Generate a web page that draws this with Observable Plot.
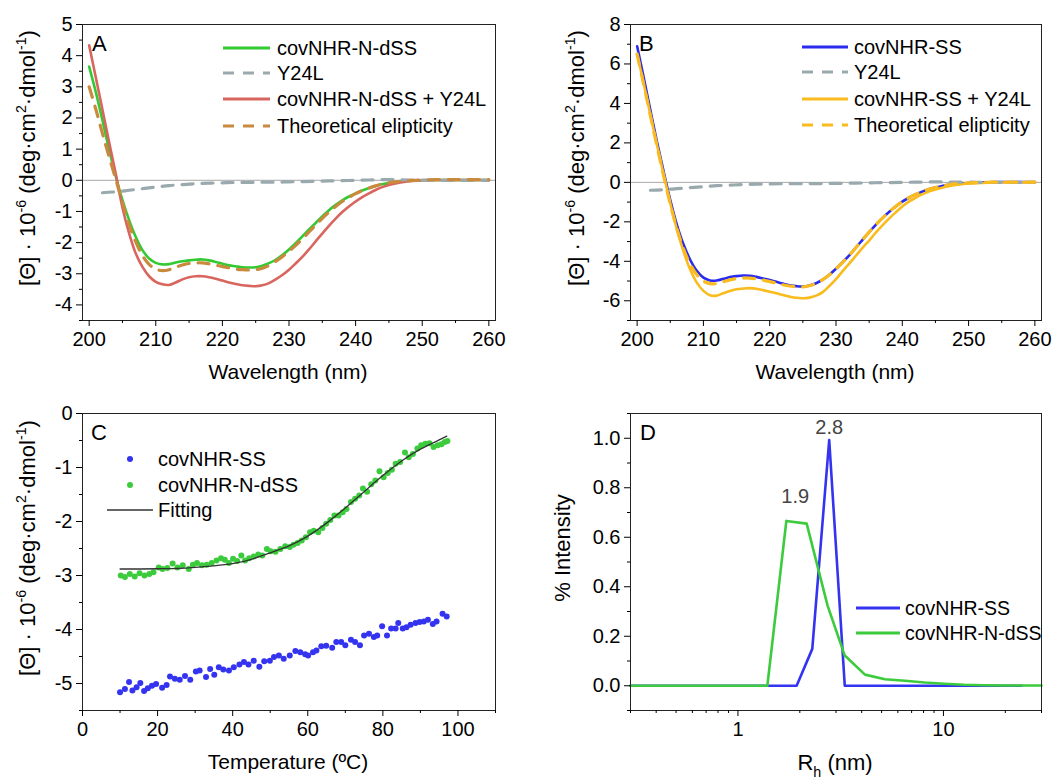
<!DOCTYPE html>
<html><head><meta charset="utf-8">
<script src="https://cdn.jsdelivr.net/npm/d3@7"></script>
<script src="https://cdn.jsdelivr.net/npm/@observablehq/plot@0.6"></script>
<style>
body{margin:0;background:#fff;}
#fig{position:relative;width:1063px;height:780px;font-family:"Liberation Sans",Arial,sans-serif;}
.panel{position:absolute;}
.panel svg text{font-family:"Liberation Sans",Arial,sans-serif;}
.panel svg g[aria-label*="tick label"] text{font-size:20px !important;}
</style></head><body><div id="fig"></div>
<script>
// ---------- DATA ----------
// Panels A/B: wavelengths (nm)
const wavelengths = [200,201,202,203,204,205,206,207,208,209,210,211,212,213,214,215,216,217,218,219,220,221,222,223,224,225,226,227,228,229,230,231,232,233,234,235,236,237,238,239,240,241,242,243,244,245,246,247,248,249,250,252,254,256,258,260];
// Panel A
const covNHR_N_dSS = [3.65,2.83,1.92,0.98,0.12,-0.64,-1.28,-1.82,-2.24,-2.51,-2.65,-2.70,-2.69,-2.64,-2.60,-2.57,-2.55,-2.54,-2.57,-2.62,-2.68,-2.73,-2.76,-2.79,-2.80,-2.79,-2.74,-2.66,-2.55,-2.40,-2.22,-2.02,-1.80,-1.58,-1.37,-1.16,-0.96,-0.79,-0.64,-0.52,-0.42,-0.33,-0.25,-0.18,-0.13,-0.09,-0.06,-0.03,-0.02,-0.01,0.00,0.01,0.01,0.01,0.01,0.01];
const covNHR_N_dSS_Y24L = [4.33,3.30,2.26,1.22,0.20,-0.88,-1.70,-2.35,-2.78,-3.08,-3.26,-3.34,-3.36,-3.28,-3.18,-3.11,-3.08,-3.08,-3.11,-3.16,-3.22,-3.28,-3.33,-3.37,-3.39,-3.40,-3.37,-3.30,-3.18,-3.04,-2.87,-2.67,-2.46,-2.22,-1.96,-1.71,-1.46,-1.23,-1.02,-0.84,-0.68,-0.54,-0.42,-0.31,-0.22,-0.15,-0.10,-0.06,-0.03,-0.01,0.00,0.01,0.01,0.01,0.01,0.01];
const theoreticalA = [3.00,2.28,1.50,0.75,0.03,-0.72,-1.42,-1.98,-2.42,-2.70,-2.85,-2.90,-2.87,-2.79,-2.72,-2.67,-2.65,-2.65,-2.68,-2.72,-2.77,-2.81,-2.85,-2.87,-2.88,-2.87,-2.82,-2.73,-2.60,-2.45,-2.28,-2.09,-1.88,-1.66,-1.44,-1.22,-1.02,-0.84,-0.68,-0.55,-0.43,-0.33,-0.25,-0.18,-0.12,-0.08,-0.05,-0.03,-0.01,0.00,0.01,0.02,0.02,0.02,0.02,0.02];
// Y24L (both panels)
const y24lWavelengths = [202,204,206,208,210,212,214,216,218,220,222,224,226,228,230,232,234,236,238,240,242,244,246,248,250,252,254,256,258,260];
const y24l = [-0.40,-0.37,-0.32,-0.27,-0.22,-0.17,-0.14,-0.11,-0.09,-0.08,-0.07,-0.07,-0.06,-0.06,-0.05,-0.04,-0.03,-0.02,-0.01,0.00,0.01,0.02,0.02,0.01,0.01,0.00,0.00,0.00,0.00,0.00];
// Panel B
const covNHR_SS = [6.90,5.30,3.65,2.05,0.55,-0.90,-2.15,-3.15,-3.92,-4.48,-4.83,-4.97,-4.97,-4.89,-4.80,-4.75,-4.72,-4.73,-4.79,-4.87,-4.95,-5.04,-5.13,-5.21,-5.26,-5.28,-5.23,-5.11,-4.93,-4.68,-4.38,-4.05,-3.70,-3.31,-2.91,-2.52,-2.15,-1.81,-1.50,-1.22,-0.98,-0.78,-0.61,-0.47,-0.35,-0.26,-0.18,-0.12,-0.08,-0.05,-0.03,0.00,0.02,0.02,0.02,0.02];
const covNHR_SS_Y24L = [6.50,5.00,3.42,1.88,0.40,-1.05,-2.38,-3.50,-4.42,-5.08,-5.50,-5.72,-5.74,-5.62,-5.50,-5.42,-5.38,-5.36,-5.39,-5.46,-5.54,-5.62,-5.71,-5.79,-5.85,-5.87,-5.84,-5.74,-5.56,-5.25,-4.90,-4.50,-4.12,-3.72,-3.32,-2.95,-2.55,-2.18,-1.84,-1.52,-1.22,-0.98,-0.78,-0.61,-0.47,-0.36,-0.27,-0.19,-0.13,-0.09,-0.06,-0.03,-0.01,0.00,0.00,0.00];
const theoreticalB = [6.50,4.95,3.38,1.83,0.33,-1.10,-2.35,-3.38,-4.15,-4.68,-5.00,-5.13,-5.13,-5.04,-4.94,-4.88,-4.85,-4.85,-4.89,-4.95,-5.03,-5.11,-5.19,-5.25,-5.29,-5.30,-5.24,-5.12,-4.93,-4.68,-4.38,-4.05,-3.70,-3.31,-2.91,-2.52,-2.15,-1.81,-1.50,-1.22,-0.98,-0.78,-0.61,-0.47,-0.35,-0.26,-0.18,-0.12,-0.08,-0.05,-0.03,0.00,0.01,0.01,0.01,0.01];
// Panel C: thermal denaturation
const tempSS = [10.0,11.3,12.4,13.3,14.4,15.4,16.4,17.4,18.5,19.6,21.2,22.4,23.3,24.6,25.9,27.3,28.7,30.2,31.2,32.9,34.0,35.1,36.3,37.5,39.0,40.3,41.8,43.0,44.2,45.6,47.1,48.4,49.9,51.0,52.3,53.6,55.2,56.7,58.0,59.3,60.1,61.4,62.3,63.6,64.9,66.5,67.6,68.9,70.0,71.5,72.6,73.9,75.0,76.3,77.6,78.5,79.8,81.1,82.2,83.4,84.1,85.3,86.3,87.4,88.7,89.8,90.9,92.0,93.3,94.3,95.9,97.0];
const thetaSS = [-5.16,-5.10,-4.97,-5.13,-5.07,-4.99,-5.14,-5.09,-5.04,-5.01,-5.08,-5.03,-4.87,-4.91,-4.93,-4.86,-4.93,-4.78,-4.76,-4.88,-4.73,-4.84,-4.70,-4.74,-4.76,-4.70,-4.65,-4.60,-4.65,-4.58,-4.69,-4.59,-4.58,-4.51,-4.48,-4.54,-4.48,-4.40,-4.42,-4.46,-4.48,-4.42,-4.39,-4.31,-4.30,-4.34,-4.23,-4.23,-4.29,-4.19,-4.23,-4.29,-4.11,-4.08,-4.14,-4.11,-3.94,-4.11,-3.98,-3.98,-3.88,-3.98,-3.96,-3.91,-3.88,-3.86,-3.85,-3.82,-3.90,-3.85,-3.71,-3.76];
const tempNdSS = [10.2,11.3,12.6,13.9,15.2,16.5,17.8,18.9,20.3,21.3,22.6,24.0,25.3,26.7,28.3,29.4,30.5,31.8,33.1,34.4,35.7,36.9,37.9,39.0,40.1,41.2,42.3,43.3,44.4,45.6,46.8,47.9,49.1,50.1,51.4,52.7,54.0,55.2,56.2,57.3,58.4,59.5,60.6,61.6,62.8,63.9,64.9,66.0,67.1,68.2,69.3,70.3,71.5,72.6,73.7,74.7,75.8,76.9,78.0,79.1,80.2,81.3,82.4,83.4,84.6,85.9,86.9,88.0,89.2,90.2,91.3,92.4,93.5,94.6,95.6,96.5,97.2];
const thetaNdSS = [-3.00,-3.03,-2.97,-3.02,-2.96,-3.00,-2.97,-2.94,-2.85,-2.88,-2.86,-2.78,-2.85,-2.81,-2.88,-2.80,-2.77,-2.81,-2.80,-2.77,-2.72,-2.68,-2.71,-2.77,-2.69,-2.73,-2.63,-2.72,-2.68,-2.65,-2.61,-2.63,-2.51,-2.55,-2.56,-2.51,-2.46,-2.47,-2.43,-2.40,-2.35,-2.29,-2.20,-2.17,-2.20,-2.12,-2.04,-1.97,-1.89,-1.89,-1.83,-1.77,-1.64,-1.58,-1.52,-1.39,-1.45,-1.31,-1.24,-1.07,-1.18,-1.10,-1.04,-0.93,-0.90,-0.72,-0.81,-0.75,-0.65,-0.59,-0.56,-0.55,-0.62,-0.59,-0.57,-0.53,-0.51];
const fitTemp = [10,15,20,25,30,35,40,45,50,55,60,65,70,75,80,85,90,95,97];
const fitTheta = [-2.88,-2.88,-2.875,-2.87,-2.85,-2.82,-2.78,-2.70,-2.58,-2.45,-2.27,-2.03,-1.75,-1.45,-1.15,-0.88,-0.66,-0.49,-0.42];
// Panel D: DLS
const rhSS = [0.3,1.93,2.30,2.78,3.31,24];
const intSS = [0,0,0.149,0.993,0,0];
const rhNdSS = [0.3,1.39,1.72,2.16,2.73,3.31,4.15,5.19,6.5,8.1,10.1,12.6,15.8,19.7,24.6,30];
const intNdSS = [0,0,0.666,0.655,0.324,0.122,0.045,0.026,0.020,0.013,0.008,0.004,0.002,0.001,0.001,0.001];
const peakLabels = ["2.8","1.9"];
const peakX = [2.78,1.90];
const peakY = [0.993,0.666];

// ---------- STYLE ----------
const FONT = '"Liberation Sans", Arial, sans-serif';
const C = {green:"#33c933", red:"#d9665e", orange:"#c98a3e", gray:"#9aa9ae", blue:"#2b2bf0", yellow:"#f9bb1e", fit:"#333", dGreen:"#3ccb3c", dBlue:"#3434f0"};
const DASH = "11,9";
const rows = (xs, ys) => xs.map((x,i)=>({x, y: ys[i]}));

function richText(sel, {x, y, rotate=0, anchor="middle", size=21, parts, fill="#000"}) {
  const g = sel.append("g").attr("transform", `translate(${x},${y}) rotate(${rotate})`);
  const t = g.append("text").attr("text-anchor", anchor).style("font-size", size + "px")
    .attr("fill", fill);
  let shift = 0;
  for (const p of parts) {
    const s = t.append("tspan").text(p.t);
    let target = 0;
    if (p.sup) { target = -0.42*size; s.style("font-size", (size*0.65) + "px"); }
    if (p.sub) { target = 0.3*size; s.style("font-size", (size*0.65) + "px"); }
    s.attr("dy", target - shift); shift = target;
  }
  return t;
}

function makePanel({left, top, width, height, m, xOpt, yOpt, marks, xT, xM, yT, yM, xF, yF}) {
  const fmtX = xF || (d => String(d));
  const fmtY = yF || (d => String(d));
  const plot = Plot.plot({
    width, height, marginLeft: m[0], marginRight: m[1], marginTop: m[2], marginBottom: m[3],
    x: xOpt, y: yOpt,
    style: {fontFamily: FONT, fontSize: "20px", color: "#000", background: "transparent", overflow: "visible"},
    marks: [
      ...marks,
      Plot.frame({stroke: "#222", strokeWidth: 1}),
      Plot.axisY(yT, {tickSize: 6, tickPadding: 4, tickFormat: fmtY, label: null, fontSize: 20}),
      Plot.axisY(yM, {tickSize: 3, tickFormat: () => "", label: null}),
      Plot.axisX(xT, {tickSize: 6, tickPadding: 5, tickFormat: fmtX, label: null, fontSize: 20}),
      Plot.axisX(xM, {tickSize: 3, tickFormat: () => "", label: null})
    ]
  });
  const div = document.createElement("div");
  div.className = "panel";
  div.style.left = left + "px"; div.style.top = top + "px";
  div.appendChild(plot);
  document.getElementById("fig").appendChild(div);
  return d3.select(plot);
}

function legendLine(svg, x1, x2, y, color, dash, w) {
  const l = svg.append("line").attr("x1", x1).attr("x2", x2).attr("y1", y).attr("y2", y)
    .attr("stroke", color).attr("stroke-width", w || 3);
  if (dash) l.attr("stroke-dasharray", dash);
}
function legendText(svg, x, y, txt, size) {
  svg.append("text").attr("x", x).attr("y", y).attr("dy", "0.35em").style("font-size", (size || 20) + "px")
    .attr("text-anchor", "start").attr("fill", "#000").text(txt);
}
function panelLetter(svg, x, y, txt) {
  svg.append("text").attr("x", x).attr("y", y).style("font-size", "22px").attr("text-anchor", "start")
    .attr("fill", "#000").text(txt);
}
const yTitleParts = [{t:"[Θ] · 10"},{t:"-6",sup:true},{t:" (deg·cm"},{t:"2",sup:true},{t:"·dmol"},{t:"-1",sup:true},{t:")"}];

// ---------- PANEL A ----------
{
  const svg = makePanel({
    left: 0, top: 0, width: 530, height: 390, m: [82, 35, 24, 70],
    xOpt: {domain: [199, 261]}, yOpt: {domain: [-4.5, 5]},
    xT: [200,210,220,230,240,250,260], xM: [205,215,225,235,245,255],
    yT: [-4,-3,-2,-1,0,1,2,3,4,5], yM: [-4.5,-3.5,-2.5,-1.5,-0.5,0.5,1.5,2.5,3.5,4.5],
    marks: [
      Plot.ruleY([0], {stroke: "#a8a8a8", strokeWidth: 1}),
      Plot.line(rows(wavelengths, covNHR_N_dSS), {x: "x", y: "y", stroke: C.green, strokeWidth: 2.6, curve: "catmull-rom"}),
      Plot.line(rows(wavelengths, covNHR_N_dSS_Y24L), {x: "x", y: "y", stroke: C.red, strokeWidth: 2.6, curve: "catmull-rom"}),
      Plot.line(rows(y24lWavelengths, y24l), {x: "x", y: "y", stroke: C.gray, strokeWidth: 3.2, strokeDasharray: DASH, curve: "catmull-rom"}),
      Plot.line(rows(wavelengths, theoreticalA), {x: "x", y: "y", stroke: C.orange, strokeWidth: 3.2, strokeDasharray: DASH, curve: "catmull-rom"})
    ]
  });
  panelLetter(svg, 92, 51, "A");
  legendLine(svg, 223, 270, 48, C.green);
  legendLine(svg, 223, 270, 73, C.gray, DASH);
  legendLine(svg, 223, 270, 99, C.red);
  legendLine(svg, 223, 270, 126, C.orange, DASH);
  legendText(svg, 277, 48, "covNHR-N-dSS");
  legendText(svg, 277, 73, "Y24L");
  legendText(svg, 277, 99, "covNHR-N-dSS + Y24L");
  legendText(svg, 277, 126, "Theoretical elipticity");
  richText(svg, {x: 35, y: 158, rotate: -90, size: 22, parts: yTitleParts});
  richText(svg, {x: 288, y: 379, parts: [{t: "Wavelength (nm)"}]});
}

// ---------- PANEL B ----------
{
  const svg = makePanel({
    left: 530, top: 0, width: 533, height: 390, m: [100, 22, 24, 70],
    xOpt: {domain: [199, 261]}, yOpt: {domain: [-7, 8]},
    xT: [200,210,220,230,240,250,260], xM: [205,215,225,235,245,255],
    yT: [-6,-4,-2,0,2,4,6,8], yM: [-7,-5,-3,-1,1,3,5,7],
    marks: [
      Plot.ruleY([0], {stroke: "#a8a8a8", strokeWidth: 1}),
      Plot.line(rows(wavelengths, covNHR_SS), {x: "x", y: "y", stroke: C.blue, strokeWidth: 2.6, curve: "catmull-rom"}),
      Plot.line(rows(wavelengths, covNHR_SS_Y24L), {x: "x", y: "y", stroke: C.yellow, strokeWidth: 2.6, curve: "catmull-rom"}),
      Plot.line(rows(y24lWavelengths, y24l), {x: "x", y: "y", stroke: C.gray, strokeWidth: 3.2, strokeDasharray: DASH, curve: "catmull-rom"}),
      Plot.line(rows(wavelengths, theoreticalB), {x: "x", y: "y", stroke: C.yellow, strokeWidth: 3.2, strokeDasharray: DASH, curve: "catmull-rom"})
    ]
  });
  panelLetter(svg, 109, 51, "B");
  legendLine(svg, 272, 318, 47, C.blue);
  legendLine(svg, 272, 318, 72, C.gray, DASH);
  legendLine(svg, 272, 318, 99, C.yellow);
  legendLine(svg, 272, 318, 125, C.yellow, DASH);
  legendText(svg, 324, 47, "covNHR-SS");
  legendText(svg, 324, 72, "Y24L");
  legendText(svg, 324, 99, "covNHR-SS + Y24L");
  legendText(svg, 324, 125, "Theoretical elipticity");
  richText(svg, {x: 54, y: 158, rotate: -90, size: 22, parts: yTitleParts});
  richText(svg, {x: 305, y: 379, parts: [{t: "Wavelength (nm)"}]});
}

// ---------- PANEL C ----------
{
  const svg = makePanel({
    left: 0, top: 390, width: 530, height: 390, m: [82, 35, 23, 70],
    xOpt: {domain: [0, 110]}, yOpt: {domain: [-5.5, 0]},
    xT: [0,20,40,60,80,100], xM: [10,30,50,70,90,110],
    yT: [0,-1,-2,-3,-4,-5], yM: [-0.5,-1.5,-2.5,-3.5,-4.5,-5.5],
    marks: [
      Plot.dot(rows(tempSS, thetaSS), {x: "x", y: "y", r: 3, fill: C.dBlue}),
      Plot.dot(rows(tempNdSS, thetaNdSS), {x: "x", y: "y", r: 3, fill: C.dGreen}),
      Plot.line(rows(fitTemp, fitTheta), {x: "x", y: "y", stroke: C.fit, strokeWidth: 1.3, curve: "natural"})
    ]
  });
  panelLetter(svg, 91, 50, "C");
  svg.append("circle").attr("cx", 130).attr("cy", 69).attr("r", 3).attr("fill", C.dBlue);
  svg.append("circle").attr("cx", 130).attr("cy", 95).attr("r", 3).attr("fill", C.dGreen);
  legendLine(svg, 107, 153, 120, C.fit, null, 1.3);
  legendText(svg, 158, 69, "covNHR-SS");
  legendText(svg, 158, 95, "covNHR-N-dSS");
  legendText(svg, 158, 120, "Fitting");
  richText(svg, {x: 35, y: 158, rotate: -90, size: 22, parts: yTitleParts});
  richText(svg, {x: 288, y: 379, parts: [{t: "Temperature (ºC)"}]});
}

// ---------- PANEL D ----------
{
  const svg = makePanel({
    left: 530, top: 390, width: 533, height: 390, m: [100, 22, 23, 70],
    xOpt: {type: "log", domain: [0.3, 30]}, yOpt: {domain: [-0.1, 1.1]},
    xT: [1, 10], xM: [0.3,0.4,0.5,0.6,0.7,0.8,0.9,2,3,4,5,6,7,8,9,20,30],
    yT: [0,0.2,0.4,0.6,0.8,1.0], yM: [-0.1,0.1,0.3,0.5,0.7,0.9,1.1],
    yF: d3.format(".1f"),
    marks: [
      Plot.line(rows(rhSS, intSS), {x: "x", y: "y", stroke: C.dBlue, strokeWidth: 2.6}),
      Plot.line(rows(rhNdSS, intNdSS), {x: "x", y: "y", stroke: C.dGreen, strokeWidth: 2.6}),
      Plot.text([0], {x: i => peakX[i], y: i => peakY[i], text: i => peakLabels[i], dy: -12, fill: "#444", fontSize: 20}),
      Plot.text([1], {x: i => peakX[i], y: i => peakY[i], text: i => peakLabels[i], dy: -24, fill: "#444", fontSize: 20})
    ]
  });
  panelLetter(svg, 110, 50, "D");
  legendLine(svg, 326, 370, 218, C.dBlue);
  legendLine(svg, 326, 370, 243, C.dGreen);
  legendText(svg, 375, 218, "covNHR-SS", 19.5);
  legendText(svg, 375, 243, "covNHR-N-dSS", 19.5);
  richText(svg, {x: 40, y: 158, rotate: -90, size: 22, parts: [{t: "% Intensity"}]});
  richText(svg, {x: 305, y: 380, size: 22, parts: [{t: "R"}, {t: "h", sub: true}, {t: " (nm)"}]});
}
</script>
</body></html>
